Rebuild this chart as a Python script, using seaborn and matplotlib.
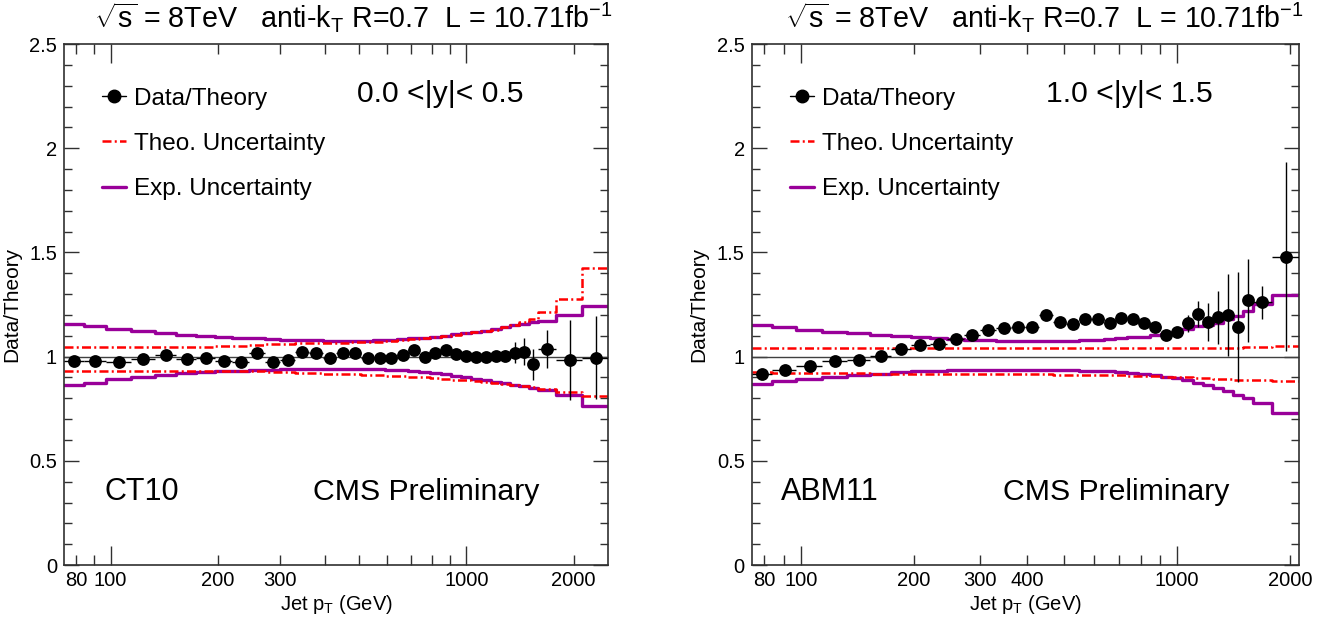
import matplotlib
matplotlib.use("Agg")
import matplotlib.pyplot as plt
import numpy as np
import pandas as pd
import seaborn as sns
from matplotlib.lines import Line2D
from matplotlib.ticker import FixedLocator, FixedFormatter, MultipleLocator

# jet pT bin edges (GeV)
pt_edges_ct10 = [74, 84, 97, 114, 133, 153, 174, 196, 220, 245, 272, 300, 330, 362, 395,
                 430, 468, 507, 548, 592, 638, 686, 737, 790, 846, 905, 967, 1032, 1101,
                 1172, 1248, 1327, 1410, 1497, 1588, 1784, 2116, 2500]
pt_edges_abm11 = pt_edges_ct10[:37]

# |y| < 0.5, CT10
ratio_ct10 = [0.981, 0.981, 0.976, 0.987, 1.008, 0.987, 0.992, 0.979, 0.976, 1.019,
              0.976, 0.984, 1.024, 1.016, 0.995, 1.016, 1.019, 0.992, 0.992, 0.992,
              1.008, 1.032, 1.000, 1.016, 1.032, 1.013, 1.005, 1.000, 0.997, 1.003,
              1.005, 1.018, 1.024, 0.963, 1.037, 0.984, 0.995]
err_ct10 = [0.004, 0.004, 0.004, 0.004, 0.004, 0.004, 0.004, 0.004, 0.004, 0.004,
            0.005, 0.005, 0.005, 0.005, 0.005, 0.005, 0.006, 0.006, 0.006, 0.007,
            0.007, 0.008, 0.008, 0.009, 0.010, 0.011, 0.012, 0.014, 0.016, 0.019,
            0.025, 0.050, 0.065, 0.075, 0.090, 0.190, 0.200]
theo_up_ct10 = [1.048, 1.048, 1.048, 1.048, 1.048, 1.048, 1.048, 1.049, 1.050, 1.055,
                1.060, 1.062, 1.064, 1.065, 1.066, 1.067, 1.068, 1.070, 1.072, 1.075,
                1.079, 1.084, 1.089, 1.094, 1.100, 1.106, 1.112, 1.118, 1.124, 1.130,
                1.140, 1.152, 1.165, 1.180, 1.215, 1.275, 1.424]
theo_dn_ct10 = [0.933, 0.933, 0.933, 0.933, 0.933, 0.933, 0.933, 0.932, 0.931, 0.929,
                0.927, 0.925, 0.923, 0.921, 0.919, 0.917, 0.915, 0.913, 0.911, 0.909,
                0.906, 0.903, 0.900, 0.897, 0.894, 0.890, 0.886, 0.882, 0.877, 0.872,
                0.867, 0.862, 0.857, 0.852, 0.845, 0.832, 0.813]
exp_up_ct10 = [1.155, 1.147, 1.132, 1.121, 1.112, 1.104, 1.099, 1.094, 1.090, 1.087,
               1.084, 1.082, 1.080, 1.078, 1.077, 1.076, 1.076, 1.077, 1.078, 1.080,
               1.083, 1.087, 1.091, 1.096, 1.101, 1.107, 1.112, 1.117, 1.123, 1.131,
               1.140, 1.150, 1.158, 1.166, 1.172, 1.200, 1.245]
exp_dn_ct10 = [0.864, 0.875, 0.892, 0.903, 0.913, 0.920, 0.925, 0.929, 0.932, 0.935,
               0.937, 0.939, 0.940, 0.941, 0.941, 0.941, 0.941, 0.940, 0.939, 0.937,
               0.934, 0.930, 0.926, 0.921, 0.915, 0.909, 0.902, 0.895, 0.887, 0.880,
               0.872, 0.864, 0.857, 0.850, 0.838, 0.815, 0.765]

# 1.0 < |y| < 1.5, ABM11
ratio_abm11 = [0.916, 0.935, 0.954, 0.979, 0.984, 1.005, 1.035, 1.055, 1.061, 1.083,
               1.104, 1.126, 1.135, 1.142, 1.142, 1.199, 1.166, 1.158, 1.180, 1.180,
               1.160, 1.184, 1.180, 1.160, 1.144, 1.106, 1.117, 1.160, 1.206, 1.165,
               1.188, 1.200, 1.142, 1.270, 1.260, 1.480]
err_abm11 = [0.004, 0.004, 0.004, 0.004, 0.004, 0.004, 0.005, 0.005, 0.005, 0.005,
             0.005, 0.006, 0.006, 0.006, 0.007, 0.007, 0.008, 0.008, 0.009, 0.009,
             0.010, 0.011, 0.012, 0.013, 0.015, 0.017, 0.020, 0.040, 0.062, 0.090,
             0.125, 0.198, 0.265, 0.200, 0.080, 0.455]
theo_up_abm11 = [1.040] * 30 + [1.041, 1.041, 1.042, 1.044, 1.046, 1.050]
theo_dn_abm11 = [0.924, 0.923, 0.922, 0.921, 0.920, 0.919, 0.918, 0.918, 0.917, 0.917,
                 0.916, 0.916, 0.916, 0.915, 0.915, 0.915, 0.914, 0.914, 0.913, 0.912,
                 0.911, 0.910, 0.909, 0.907, 0.906, 0.904, 0.902, 0.900, 0.898, 0.896,
                 0.894, 0.892, 0.890, 0.888, 0.886, 0.884]
exp_up_abm11 = [1.151, 1.143, 1.130, 1.120, 1.112, 1.105, 1.098, 1.092, 1.088, 1.084,
                1.081, 1.079, 1.077, 1.076, 1.075, 1.075, 1.075, 1.076, 1.078, 1.080,
                1.083, 1.087, 1.092, 1.096, 1.102, 1.110, 1.120, 1.132, 1.145, 1.152,
                1.160, 1.180, 1.197, 1.220, 1.253, 1.296]
exp_dn_abm11 = [0.868, 0.881, 0.892, 0.903, 0.911, 0.919, 0.924, 0.929, 0.932, 0.934,
                0.935, 0.936, 0.936, 0.936, 0.936, 0.936, 0.935, 0.934, 0.933, 0.931,
                0.929, 0.926, 0.922, 0.917, 0.911, 0.904, 0.896, 0.887, 0.874, 0.862,
                0.848, 0.834, 0.818, 0.800, 0.778, 0.731]

title_text = r"$\sqrt{\mathrm{s}}$ = 8TeV   anti-k$_\mathrm{T}$ R=0.7  L = 10.71fb$^{-1}$"

sns.set_theme(style="ticks")
plt.rcParams["font.family"] = ["Liberation Sans", "DejaVu Sans"]
plt.rcParams["mathtext.fontset"] = "custom"
plt.rcParams["mathtext.rm"] = "Liberation Sans"
plt.rcParams["mathtext.it"] = "Liberation Sans:italic"
plt.rcParams["text.color"] = "black"
plt.rcParams["axes.labelcolor"] = "black"
plt.rcParams["xtick.color"] = "black"
plt.rcParams["ytick.color"] = "black"

PURPLE = "#990099"
RED = "#ff0000"
DASHDOT = (3.6, 1.3, 0.8, 1.3)


def draw_step(ax, edges, vals, color, lw, dashes=None):
    df = pd.DataFrame({"pt": edges, "v": list(vals) + [vals[-1]]})
    sns.lineplot(data=df, x="pt", y="v", drawstyle="steps-post", estimator=None,
                 sort=False, color=color, linewidth=lw, ax=ax)
    if dashes is not None:
        ax.lines[-1].set_dashes(dashes)


def draw_panel(ax, edges, ratio, err, theo_up, theo_dn, exp_up, exp_dn,
               xmax, rap_label, pdf_label, minor_ticks, minor_labels, rap_x, pdf_x):
    ax.set_xscale("log")
    edges = np.array(edges, dtype=float)
    lo, hi = edges[:-1], edges[1:]
    centers = 0.5 * (lo + hi)

    ax.axhline(1.0, color="#404040", lw=1.0, zorder=1)
    draw_step(ax, edges, exp_up, PURPLE, 2.4)
    draw_step(ax, edges, exp_dn, PURPLE, 2.4)
    draw_step(ax, edges, theo_up, RED, 1.8, DASHDOT)
    draw_step(ax, edges, theo_dn, RED, 1.8, DASHDOT)

    ax.errorbar(centers, ratio, yerr=err, xerr=[centers - lo, hi - centers],
                fmt="none", ecolor="black", elinewidth=1.0, capsize=0, zorder=4)
    sns.scatterplot(x=centers, y=ratio, s=85, color="black", edgecolor="black",
                    linewidth=0, zorder=5, ax=ax)

    ax.set_xlim(74, xmax)
    ax.set_ylim(0, 2.5)
    ax.xaxis.set_major_locator(FixedLocator([100, 1000]))
    ax.xaxis.set_major_formatter(FixedFormatter(["100", "1000"]))
    ax.xaxis.set_minor_locator(FixedLocator(minor_ticks))
    ax.xaxis.set_minor_formatter(FixedFormatter(minor_labels))
    ax.yaxis.set_major_locator(FixedLocator([0, 0.5, 1, 1.5, 2, 2.5]))
    ax.yaxis.set_major_formatter(FixedFormatter(["0", "0.5", "1", "1.5", "2", "2.5"]))
    ax.yaxis.set_minor_locator(MultipleLocator(0.1))

    ax.tick_params(axis="both", which="both", direction="in", top=True, right=True,
                   color="#303030", labelsize=14.5, pad=4)
    ax.tick_params(axis="x", which="major", length=14, width=1.0)
    ax.tick_params(axis="x", which="minor", length=7, width=1.0)
    ax.tick_params(axis="y", which="major", length=11, width=1.0, pad=5)
    ax.tick_params(axis="y", which="minor", length=5.5, width=1.0)
    for sp in ax.spines.values():
        sp.set_color("#303030")
        sp.set_linewidth(1.2)

    ax.set_xlabel(r"Jet p$_\mathrm{T}$ (GeV)", fontsize=14.5)
    ax.set_ylabel("Data/Theory", fontsize=15)
    ax.xaxis.set_label_coords(0.5, -0.054)
    ax.yaxis.set_label_coords(-0.079, 0.5)

    handles = [
        Line2D([], [], color="black", marker="o", markersize=9, lw=1.0),
        Line2D([], [], color=RED, lw=1.8, dashes=DASHDOT),
        Line2D([], [], color=PURPLE, lw=2.4),
    ]
    ax.legend(handles, ["Data/Theory", "Theo. Uncertainty", "Exp. Uncertainty"],
              loc="upper left", bbox_to_anchor=(0.07, 0.916), frameon=False,
              fontsize=17.5, handlelength=1.0, handletextpad=0.3,
              labelspacing=0.95, borderpad=0, borderaxespad=0)

    ax.text(rap_x, 0.905, rap_label, transform=ax.transAxes, fontsize=21.7,
            ha="left", va="center")
    ax.text(pdf_x, 0.14, pdf_label, transform=ax.transAxes, fontsize=22,
            ha="left", va="center")
    ax.text(0.458, 0.14, "CMS Preliminary", transform=ax.transAxes, fontsize=21.8,
            ha="left", va="center")
    ax.text(1.008, 1.03, title_text, transform=ax.transAxes, fontsize=20.6,
            ha="right", va="baseline")


fig = plt.figure(figsize=(13.31, 6.29), dpi=100)
ax_l = fig.add_axes([0.0481, 0.1017, 0.4087, 0.8283])
ax_r = fig.add_axes([0.5647, 0.1017, 0.4116, 0.8283])

minor_l = [80, 90, 200, 300, 400, 500, 600, 700, 800, 900, 2000]
labels_l = ["80", "", "200", "300", "", "", "", "", "", "", "2000"]
labels_r = ["80", "", "200", "300", "400", "", "", "", "", "", "2000"]

draw_panel(ax_l, pt_edges_ct10, ratio_ct10, err_ct10, theo_up_ct10, theo_dn_ct10,
           exp_up_ct10, exp_dn_ct10, 2500, "0.0 <|y|< 0.5", "CT10",
           minor_l, labels_l, 0.539, 0.0735)
draw_panel(ax_r, pt_edges_abm11, ratio_abm11, err_abm11, theo_up_abm11, theo_dn_abm11,
           exp_up_abm11, exp_dn_abm11, 2116, "1.0 <|y|< 1.5", "ABM11",
           minor_l, labels_r, 0.537, 0.053)

fig.savefig("out.png", dpi=100)
